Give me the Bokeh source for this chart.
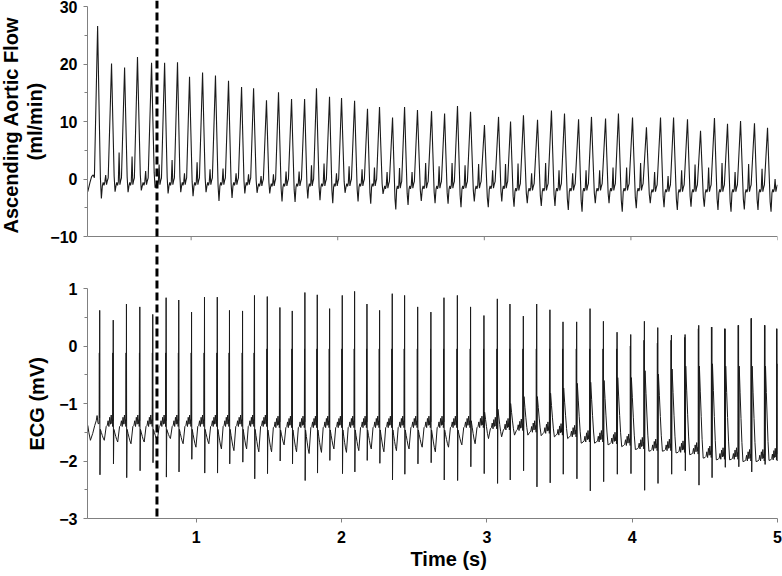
import numpy as np
from bokeh.plotting import figure
from bokeh.layouts import column
from bokeh.models import Range1d, FixedTicker, Span, Title
from bokeh.embed import file_html
from bokeh.resources import INLINE

# ---------------- data ----------------
# Ascending aortic flow (ml/min): one entry per heart beat
flow_peak_time = [0.362, 0.457, 0.546, 0.634, 0.730, 0.819, 0.907, 0.989, 1.078, 1.166,
                  1.255, 1.344, 1.426, 1.514, 1.596, 1.685, 1.774, 1.855, 1.944, 2.026,
                  2.115, 2.203, 2.285, 2.374, 2.456, 2.544, 2.640, 2.729, 2.817, 2.906,
                  3.001, 3.097, 3.179, 3.267, 3.363, 3.458, 3.547, 3.643, 3.731, 3.827,
                  3.915, 4.011, 4.106, 4.202, 4.291, 4.386, 4.475, 4.570, 4.659, 4.748,
                  4.843, 4.932]
flow_peak = [26.6, 20.1, 19.4, 21.2, 20.2, 20.2, 20.3, 17.8, 18.5, 18.0,
             17.1, 16.0, 15.8, 13.7, 15.1, 13.9, 13.9, 15.8, 14.3, 14.1,
             13.6, 12.2, 12.5, 10.7, 12.5, 12.0, 11.8, 11.4, 12.7, 11.7,
             9.4, 10.8, 10.0, 11.1, 10.3, 11.9, 11.4, 10.4, 10.8, 10.5,
             11.4, 10.7, 9.0, 10.7, 10.7, 10.4, 8.4, 10.6, 9.6, 10.1,
             9.7, 8.9]
flow_trough = [-3.4, -2.2, -2.3, -2.0, -1.5, -2.5, -2.3, -3.0, -2.3, -3.8,
               -3.3, -2.5, -2.4, -2.5, -3.9, -4.0, -3.4, -3.7, -4.2, -2.4,
               -3.9, -4.3, -2.6, -5.3, -4.5, -3.8, -4.2, -4.3, -4.9, -3.9,
               -4.9, -3.9, -4.8, -4.2, -4.7, -4.7, -5.4, -5.7, -4.2, -4.2,
               -5.7, -5.1, -4.2, -4.9, -5.4, -4.8, -4.8, -5.4, -5.7, -5.3,
               -5.4, -5.7]
flow_bump = [0.7, 4.6, 3.9, 1.4, 2.5, 3.3, 1.0, 2.9, 1.7, 1.8,
             1.0, 0.8, 0.5, 0.8, 1.3, 1.3, 2.4, 2.7, 1.0, 2.2,
             1.7, 2.0, 1.2, 1.9, 1.2, 2.8, 2.2, 2.8, 2.4, 2.6,
             1.5, 2.6, 2.7, 1.0, 2.8, 1.5, 1.0, 1.5, 1.5, 2.0,
             2.0, 2.8, 1.2, 0.5, 1.5, 2.5, 2.0, 2.8, 1.2, 2.6,
             1.8, 0.0]
flow_diastole = [-0.8, -0.8, -0.8, -0.8, -0.8, -0.8, -0.8, -0.8, -0.8, -0.8,
                 -0.8, -0.8, -1.0, -1.0, -1.0, -1.0, -1.0, -1.0, -1.0, -1.0,
                 -1.0, -1.0, -1.4, -1.4, -1.4, -1.4, -1.4, -1.4, -1.4, -1.4,
                 -1.4, -1.4, -1.8, -1.8, -1.8, -1.8, -1.8, -1.8, -1.8, -1.8,
                 -1.8, -1.8, -2.0, -2.0, -2.0, -2.0, -2.0, -2.0, -2.0, -2.0,
                 -2.0, -2.0]
flow_lead_time = [0.295, 0.310, 0.321, 0.332, 0.340]
flow_lead = [-2.2, -0.6, 0.4, 0.7, 0.2]

# ECG (mV): one entry per heart beat
ecg_spike_time = [0.336, 0.429, 0.520, 0.612, 0.701, 0.793, 0.880, 0.968, 1.057, 1.145,
                  1.229, 1.319, 1.401, 1.489, 1.576, 1.661, 1.748, 1.833, 1.918, 2.005,
                  2.090, 2.175, 2.262, 2.349, 2.434, 2.524, 2.615, 2.705, 2.797, 2.888,
                  2.980, 3.072, 3.159, 3.251, 3.343, 3.434, 3.524, 3.618, 3.710, 3.802,
                  3.896, 3.990, 4.084, 4.176, 4.270, 4.364, 4.458, 4.548, 4.639, 4.732,
                  4.821, 4.913, 4.997]
ecg_spike_top = [0.62, 0.45, 0.73, 0.68, 0.55, 0.84, 0.80, 0.59, 0.85, 0.85,
                 0.62, 0.61, 0.88, 0.86, 0.67, 0.61, 0.93, 0.89, 0.65, 0.88,
                 0.95, 0.73, 0.62, 0.91, 0.88, 0.68, 0.59, 0.84, 0.88, 0.68,
                 0.53, 0.82, 0.73, 0.52, 0.73, 0.63, 0.42, 0.42, 0.65, 0.43,
                 0.24, 0.20, 0.43, 0.32, 0.19, 0.20, 0.36, 0.33, 0.30, 0.36,
                 0.48, 0.36, 0.30]
ecg_spike_bottom = [-2.24, -2.05, -2.29, -2.17, -2.03, -2.28, -2.19, -1.97, -2.21, -2.21,
                    -2.05, -2.02, -2.31, -2.22, -2.00, -2.05, -2.34, -2.21, -1.99, -2.22,
                    -2.19, -1.99, -2.04, -2.33, -2.23, -2.05, -2.03, -2.33, -2.34, -2.10,
                    -2.22, -2.39, -2.33, -2.17, -2.45, -2.38, -2.23, -2.31, -2.52, -2.36,
                    -2.23, -2.22, -2.51, -2.39, -2.23, -2.17, -2.42, -2.29, -2.11, -2.10,
                    -2.19, -2.06, -2.00]
ecg_r_level = [-0.12, -0.12, -0.12, -0.12, -0.12, -0.12, -0.12, -0.12, -0.12, -0.12,
               -0.12, -0.12, -0.12, -0.05, -0.05, -0.05, -0.05, -0.05, -0.05, -0.05,
               -0.05, -0.05, -0.05, -0.05, -0.05, -0.05, -0.05, -0.05, -0.05, -0.05,
               -0.05, -0.05, -0.05, -0.05, -0.05, -0.05, -0.05, -0.05, -0.05, -0.05,
               -0.05, 0.00, 0.10, 0.05, 0.10, 0.15, 0.30, 0.33, 0.30, 0.36,
               0.48, 0.36, 0.30]
ecg_st_level = [-1.45, -1.45, -1.45, -1.45, -1.45, -1.45, -1.45, -1.45, -1.45, -1.45,
                -1.45, -1.45, -1.45, -1.46, -1.46, -1.46, -1.46, -1.46, -1.46, -1.46,
                -1.46, -1.46, -1.46, -1.46, -1.46, -1.46, -1.46, -1.46, -1.46, -1.30,
                -1.15, -1.10, -1.00, -0.88, -0.88, -0.82, -0.73, -0.65, -0.63, -0.60,
                -0.55, -0.55, -0.43, -0.49, -0.40, -0.35, -0.35, -0.31, -0.35, -0.35,
                -0.35, -0.35, -0.31]
ecg_t_min = [-1.64, -1.67, -1.70, -1.67, -1.64, -1.61, -1.70, -1.76, -1.70, -1.79,
             -1.82, -1.79, -1.84, -1.84, -1.72, -1.84, -1.87, -1.85, -1.79, -1.85,
             -1.82, -1.79, -1.84, -1.82, -1.79, -1.76, -1.84, -1.76, -1.72, -1.70,
             -1.61, -1.58, -1.55, -1.55, -1.56, -1.58, -1.61, -1.69, -1.69, -1.72,
             -1.75, -1.80, -1.83, -1.83, -1.86, -1.89, -1.95, -1.98, -1.98, -2.01,
             -2.01, -1.99, -1.96]
ecg_baseline = [-1.40, -1.40, -1.40, -1.40, -1.40, -1.40, -1.40, -1.40, -1.40, -1.40,
                -1.40, -1.40, -1.40, -1.42, -1.42, -1.42, -1.42, -1.42, -1.42, -1.42,
                -1.42, -1.42, -1.42, -1.42, -1.42, -1.42, -1.42, -1.42, -1.42, -1.42,
                -1.44, -1.46, -1.47, -1.50, -1.52, -1.55, -1.58, -1.67, -1.67, -1.70,
                -1.73, -1.79, -1.82, -1.82, -1.85, -1.88, -1.94, -1.97, -1.97, -2.00,
                -2.00, -1.98, -1.95]
ecg_lead_time = [0.254, 0.261, 0.272, 0.288, 0.302, 0.312, 0.318, 0.325]
ecg_lead = [-1.38, -1.50, -1.64, -1.52, -1.38, -1.30, -1.21, -1.35]

marker_time_flow = 0.767   # dashed line, read on the upper time scale
marker_time_ecg = 0.730    # dashed line, read on the lower time scale

flow_ticks = [-10, 0, 10, 20, 30]
flow_minor = [-5, 5, 15, 25]
ecg_ticks = [-3, -2, -1, 0, 1]
ecg_minor = [-2.5, -1.5, -0.5, 0.5]
time_ticks = [1, 2, 3, 4, 5]

# beat-shape templates (fraction of the beat interval, read from single beats)
FLOW_U = [0.0, 0.10, 0.20, 0.27, 0.34, 0.40, 0.46, 0.52, 0.58, 0.64, 0.70, 0.76]
P_U = [0.56, 0.62, 0.68, 0.74, 0.80, 0.85, 0.90, 0.95]
P_OFF = [0.02, 0.10, 0.00, 0.16, 0.04, 0.20, 0.05, 0.12]


def flow_trace():
    ts, vs = list(flow_lead_time), list(flow_lead)
    n = len(flow_peak_time)
    for i in range(n):
        t0 = flow_peak_time[i]
        T = flow_peak_time[i + 1] - t0 if i + 1 < n else t0 - flow_peak_time[i - 1]
        p, r, b, d = flow_peak[i], flow_trough[i], flow_bump[i], flow_diastole[i]
        vals = [p, p - 0.45 * (p - r), r + 0.12 * (p - r), r, d - 0.4, d + 0.2,
                d - 0.3, d + 0.3, b, d - 0.2, d + 0.5, d + 1.0]
        for u, v in zip(FLOW_U, vals):
            ts.append(t0 + u * T)
            vs.append(v)
    return ts, vs


def ecg_trace():
    ts, vs = list(ecg_lead_time), list(ecg_lead)
    n = len(ecg_spike_time)
    prev_base = ecg_lead[-1]
    for i in range(n):
        t0 = ecg_spike_time[i]
        T = ecg_spike_time[i + 1] - t0 if i + 1 < n else t0 - ecg_spike_time[i - 1]
        b, st, tm = ecg_baseline[i], ecg_st_level[i], ecg_t_min[i]
        spike = [(-0.004, prev_base), (-0.0025, ecg_r_level[i]), (-0.0012, prev_base + 0.1),
                 (0.0, ecg_spike_top[i]), (0.0018, ecg_spike_bottom[i]), (0.0045, st)]
        for dt, v in spike:
            ts.append(t0 + dt)
            vs.append(v)
        for u, k in zip([0.12, 0.19, 0.26, 0.34], [0.72, 0.45, 0.2, 0.0]):
            ts.append(t0 + u * T)
            vs.append(tm + k * (st - tm))
        ts.append(t0 + 0.48 * T)
        vs.append(b)
        for u, off in zip(P_U, P_OFF):
            ts.append(t0 + u * T)
            vs.append(b + off)
        prev_base = b
    return ts, vs


FONT = "Liberation Sans"
AX = "#808080"
TRACE = "#1a1a1a"
FLOW_PX = 5.75      # pixels per ml/min in the upper panel
ECG_PX = 57.5       # pixels per mV in the lower panel
W = 788             # canvas width; the layout is shifted 6px left so the frames start at x=87
LEFT = 93

# ---------------- upper panel ----------------
flow_low = -10 - 4 / FLOW_PX
top = figure(width=W, height=244, x_range=Range1d(0.293, 5.0),
             y_range=Range1d(flow_low, 30 + 6 / FLOW_PX),
             output_backend="svg", toolbar_location=None, x_axis_location=None,
             min_border_left=LEFT, min_border_right=5, min_border_top=0, min_border_bottom=4)
ft, fv = flow_trace()
top.line(ft, fv, line_color=TRACE, line_width=1.1)
# the upper panel's own time axis (line and ticks at the tick values)
top.add_layout(Span(location=flow_ticks[0], dimension="width", line_color=AX, line_width=1))
top.segment(x0=time_ticks, y0=[flow_ticks[0]] * len(time_ticks), x1=time_ticks,
            y1=[flow_low] * len(time_ticks), line_color=AX, line_width=1)
top.add_layout(Span(location=marker_time_flow, dimension="height", line_color="black",
                    line_width=3, line_dash="8 4"))
top.yaxis.ticker = FixedTicker(ticks=flow_ticks, minor_ticks=flow_minor)
top.yaxis.bounds = (flow_ticks[0], flow_ticks[-1])

# ---------------- lower panel ----------------
bot = figure(width=W, height=332, x_range=Range1d(0.252, 5.0),
             y_range=Range1d(-3, -3 + 274 / ECG_PX),
             output_backend="svg", toolbar_location=None,
             min_border_left=LEFT, min_border_right=5, min_border_top=0, min_border_bottom=58)
et, ev = ecg_trace()
bot.line(et, ev, line_color=TRACE, line_width=1)
bot.add_layout(Span(location=marker_time_ecg, dimension="height", line_color="black",
                    line_width=3, line_dash="8 4"))
bot.yaxis.ticker = FixedTicker(ticks=ecg_ticks, minor_ticks=ecg_minor)
bot.yaxis.bounds = (ecg_ticks[0], ecg_ticks[-1])
bot.xaxis.ticker = FixedTicker(ticks=time_ticks)
bot.xaxis.major_label_standoff = 8
bot.xaxis.major_label_text_font_size = "16px"
bot.xaxis.major_tick_out = 4

for p in (top, bot):
    p.grid.visible = False
    p.outline_line_color = None
    p.background_fill_color = "white"
    p.border_fill_color = "white"
    for ax in p.axis:
        ax.axis_line_color = AX
        ax.major_tick_line_color = AX
        ax.minor_tick_line_color = AX
        ax.major_tick_in = 0
        ax.minor_tick_in = 0
        ax.minor_tick_out = 0
        ax.major_label_text_font = FONT
        ax.major_label_text_font_style = "bold"
        ax.major_label_text_color = "black"
    p.yaxis.major_tick_out = 4
    p.yaxis.minor_tick_out = 3
    p.yaxis.major_label_standoff = 6
    p.yaxis.major_label_text_font_size = "16px"


def side_title(text, align, offset, standoff):
    return Title(text=text, align=align, offset=offset, standoff=standoff,
                 text_font=FONT, text_font_size="20px", text_font_style="bold",
                 text_color="black")


top.add_layout(side_title("(ml/min)", "left", 80, 4), "left")
top.add_layout(side_title("Ascending Aortic Flow", "left", 7, -4), "left")
bot.add_layout(side_title("ECG (mV)", "left", 68, 17), "left")
bot.add_layout(side_title("Time (s)", "left", 323, 0), "below")

layout = column(top, bot, width=W, height=576, styles={"margin-left": "-6px"})

open("out.html", "w").write(file_html(layout, INLINE))
